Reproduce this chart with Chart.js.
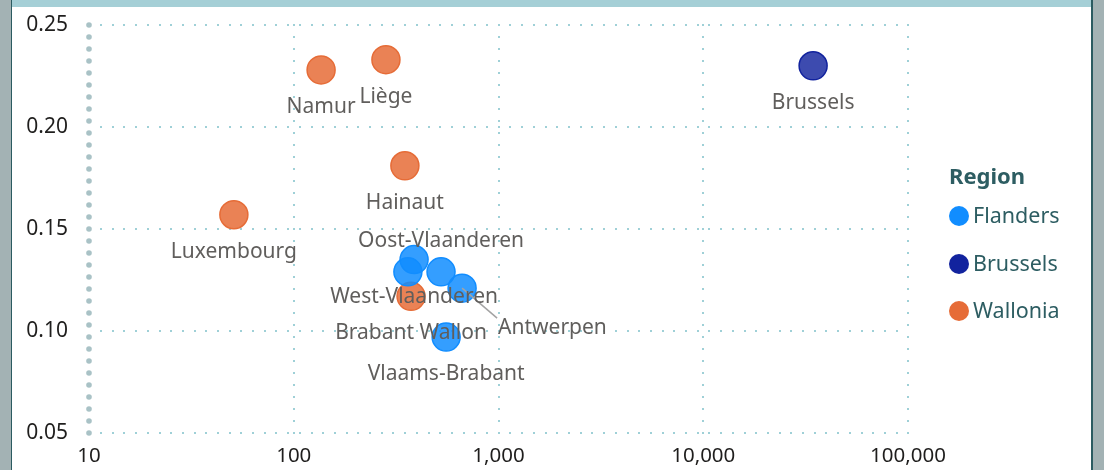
<!DOCTYPE html>
<html>
<head>
<meta charset="utf-8">
<script src="https://cdn.jsdelivr.net/npm/chart.js@4.4.0/dist/chart.umd.min.js"></script>
<style>
  html, body { margin: 0; padding: 0; background: #fff; }
  body { width: 1104px; height: 470px; position: relative; overflow: hidden; font-family: "Noto Sans", sans-serif; }
  .edge-l { position: absolute; left: 0; top: 0; width: 11px; height: 470px; background: #a3b2b4; border-right: 1px solid #2b5b61; }
  .edge-r { position: absolute; left: 1091px; top: 0; width: 13px; height: 470px; background: #a3b2b4; border-left: 2px solid #2b5b61; box-sizing: border-box; }
  .topbar { position: absolute; left: 12px; top: 0; width: 1079px; height: 7px; background: #a5cfd6; }
  #wrap { position: absolute; left: 12px; top: 6px; width: 1079px; height: 464px; }
  .legend { position: absolute; left: 949px; top: 0; color: #2d5d62; font-size: 21.5px; }
  .legend .title { position: absolute; left: 0; top: 160px; font-weight: bold; font-size: 22px; white-space: nowrap; }
  .legend .item { position: absolute; left: 0; white-space: nowrap; line-height: 26px; }
  .legend .dot { display: inline-block; width: 20px; height: 20px; border-radius: 50%; vertical-align: -3px; margin-right: 4px; }
</style>
</head>
<body>
<div class="edge-l"></div>
<div class="edge-r"></div>
<div class="topbar"></div>
<div id="wrap"><canvas id="chart"></canvas></div>
<div class="legend" id="legend"></div>
<script>
  // data
  const provinces = ["Antwerpen", "Limburg", "Oost-Vlaanderen", "Vlaams-Brabant", "West-Vlaanderen",
    "Brussels", "Brabant Wallon", "Hainaut", "Liège", "Luxembourg", "Namur"];
  const provinceRegion = ["Flanders", "Flanders", "Flanders", "Flanders", "Flanders",
    "Brussels", "Wallonia", "Wallonia", "Wallonia", "Wallonia", "Wallonia"];
  const xValues = [664, 361, 524, 555, 387, 34400, 374, 349, 282, 51, 136];
  const yValues = [0.121, 0.129, 0.129, 0.097, 0.135, 0.230, 0.117, 0.181, 0.233, 0.157, 0.228];
  // where each data label sits relative to its point
  const labelPlace = ["callout", "none", "above", "below", "below", "below", "below", "below", "below", "below", "below"];

  const regions = ["Flanders", "Brussels", "Wallonia"];
  const regionColors = ["#118DFF", "#12239E", "#E66C37"];
  const regionFills = ["rgba(17,141,255,0.85)", "rgba(18,35,158,0.82)", "rgba(230,108,55,0.85)"];

  const xTicks = [10, 100, 1000, 10000, 100000];
  const yMin = 0.05, yMax = 0.25, yStep = 0.05;

  const fontFamily = '"Noto Sans", sans-serif';
  Chart.defaults.font.family = fontFamily;

  const datasets = regions.map((r, ri) => {
    const pts = [];
    provinces.forEach((p, i) => {
      if (provinceRegion[i] === r) pts.push({ x: xValues[i], y: yValues[i], name: p, place: labelPlace[i] });
    });
    return {
      label: r,
      data: pts,
      backgroundColor: regionFills[ri],
      borderColor: regionColors[ri],
      borderWidth: 1.5,
      pointRadius: 14,
      pointHoverRadius: 14,
      clip: false,
    };
  });

  // dotted grid + dotted y axis line
  const gridPlugin = {
    id: "dotGrid",
    beforeDatasetsDraw(chart) {
      const { ctx, chartArea: a, scales } = chart;
      ctx.save();
      ctx.fillStyle = "#9fd0d7";
      for (let v = yMin; v <= yMax + 1e-9; v += yStep) {
        const y = Math.round(scales.y.getPixelForValue(v));
        for (let x = a.left + 12; x <= a.right; x += 11.7) ctx.fillRect(Math.round(x) - 1, y - 1, 2, 2);
      }
      xTicks.slice(1).forEach((v) => {
        const x = Math.round(scales.x.getPixelForValue(v));
        for (let y = a.bottom; y >= a.top; y -= 12) ctx.fillRect(x - 1, Math.round(y) - 1, 2, 2);
      });
      ctx.fillStyle = "#a9c2c6";
      const x0 = scales.x.getPixelForValue(xTicks[0]);
      for (let y = a.bottom; y >= a.top - 1; y -= 12) {
        ctx.beginPath();
        ctx.arc(x0, y, 2.8, 0, Math.PI * 2);
        ctx.fill();
      }
      ctx.restore();
    },
  };

  const labelPlugin = {
    id: "pointLabels",
    afterDatasetsDraw(chart) {
      const { ctx } = chart;
      ctx.save();
      ctx.font = "21px " + fontFamily;
      ctx.fillStyle = "#605e5c";
      ctx.textBaseline = "middle";
      chart.data.datasets.forEach((ds, di) => {
        chart.getDatasetMeta(di).data.forEach((el, i) => {
          const d = ds.data[i];
          if (d.place === "none") return;
          if (d.place === "callout") {
            ctx.strokeStyle = "#a3a3a3";
            ctx.lineWidth = 1.5;
            ctx.beginPath();
            ctx.moveTo(el.x, el.y);
            ctx.lineTo(el.x + 35, el.y + 30);
            ctx.stroke();
            ctx.textAlign = "left";
            ctx.fillText(d.name, el.x + 36, el.y + 40);
            return;
          }
          ctx.textAlign = "center";
          ctx.fillText(d.name, el.x, d.place === "above" ? el.y - 31 : el.y + 37);
        });
      });
      ctx.restore();
    },
  };

  new Chart(document.getElementById("chart"), {
    type: "scatter",
    data: { datasets },
    options: {
      responsive: true,
      maintainAspectRatio: false,
      animation: false,
      events: [],
      layout: { padding: { top: 19, right: 183, bottom: 0, left: 0 } },
      plugins: { legend: { display: false }, tooltip: { enabled: false } },
      scales: {
        x: {
          type: "logarithmic",
          min: xTicks[0],
          max: xTicks[xTicks.length - 1],
          afterBuildTicks: (scale) => { scale.ticks = xTicks.map((v) => ({ value: v })); },
          afterFit: (scale) => { scale.height = 37; scale.paddingLeft = 0; scale.paddingRight = 0; },
          grid: { display: false, drawTicks: false },
          border: { display: false },
          ticks: {
            color: "#1f1e1d",
            font: { size: 20.5 },
            padding: 11,
            maxRotation: 0,
            autoSkip: false,
            callback: (v) => Number(v).toLocaleString("en-US"),
          },
        },
        y: {
          min: yMin,
          max: yMax,
          afterFit: (scale) => { scale.width = 77; scale.paddingTop = 0; scale.paddingBottom = 0; },
          grid: { display: false, drawTicks: false },
          border: { display: false },
          ticks: {
            stepSize: yStep,
            color: "#1f1e1d",
            font: { size: 21 },
            padding: 21,
            callback: (v) => Number(v).toFixed(2),
          },
        },
      },
    },
    plugins: [gridPlugin, labelPlugin],
  });

  // legend
  const legendEl = document.getElementById("legend");
  legendEl.innerHTML = '<div class="title">Region</div>' + regions.map((r, i) =>
    '<div class="item" style="top:' + (202 + i * 47.5) + 'px"><span class="dot" style="background:' +
    regionColors[i] + '"></span>' + r + '</div>').join("");
</script>
</body>
</html>
